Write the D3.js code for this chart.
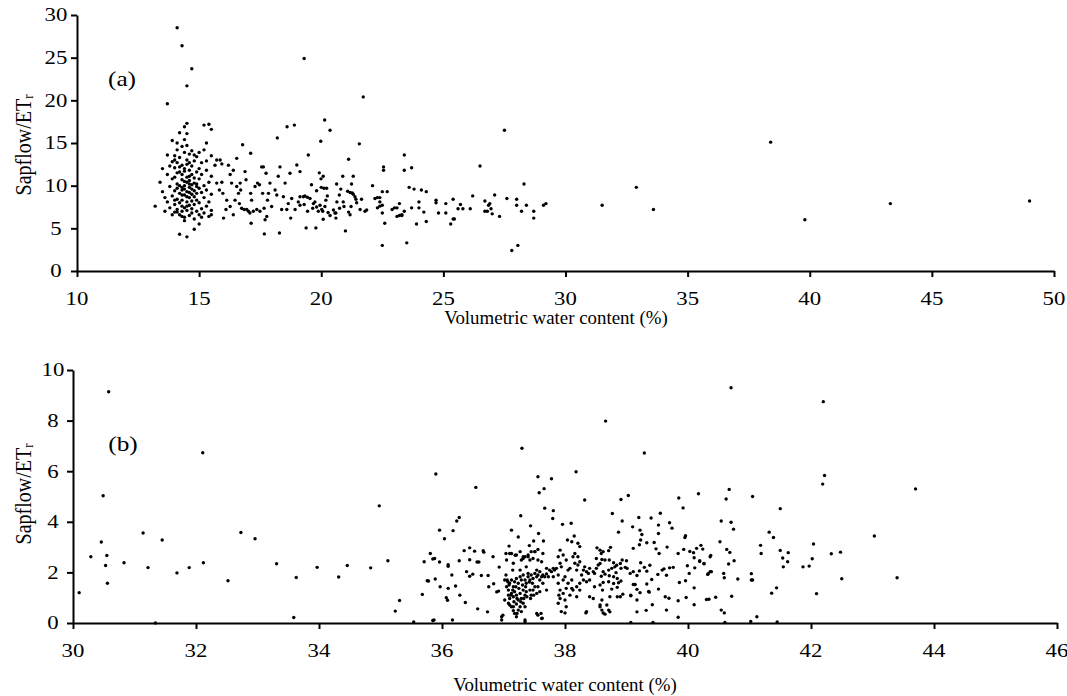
<!DOCTYPE html>
<html>
<head>
<meta charset="utf-8">
<script src="https://cdn.jsdelivr.net/npm/d3@7"></script>
<style>
  body { margin: 0; background: #fff; }
  svg { display: block; }
</style>
</head>
<body>
<svg id="chart" width="1067" height="696" font-family="'Liberation Serif', 'Times New Roman', serif"></svg>
<script>
// tick values
const xTicksA = [10, 15, 20, 25, 30, 35, 40, 45, 50]
const yTicksA = [0, 5, 10, 15, 20, 25, 30]
const xTicksB = [30, 32, 34, 36, 38, 40, 42, 44, 46]
const yTicksB = [0, 2, 4, 6, 8, 10]

// panel (a): [volumetric water content %, sapflow/ETr]
const pointsA = [
  [14.1,28.5],[14.3,26.4],[14.7,23.7],[14.5,21.7],[13.7,19.6],[14.5,17.3],[14.4,16.9],
  [13.2,7.6],[13.4,10.4],[13.5,9.3],[13.5,12.0],[13.6,8.6],[13.6,7.0],[13.7,11.3],[13.7,13.6],[13.7,8.1],
  [13.8,9.9],[13.8,12.3],[13.8,7.4],[13.9,15.3],[13.9,10.8],[13.9,8.8],[13.9,6.6],[14.0,12.1],[14.0,13.5],
  [14.0,9.4],[14.0,7.8],[14.0,11.0],[14.0,6.9],
  [14.1,14.2],[14.1,12.7],[14.1,10.2],[14.1,8.4],[14.1,7.2],[14.1,15.0],[14.2,11.6],[14.2,9.1],[14.2,8.0],
  [14.2,6.6],[14.2,13.3],[14.2,4.3],[14.2,16.2],[14.3,12.4],[14.3,10.7],[14.3,9.5],[14.3,7.6],[14.3,7.0],
  [14.3,14.6],[14.3,11.3],[14.3,8.3],[14.4,13.9],[14.4,10.0],[14.4,8.9],[14.4,7.4],[14.4,12.0],[14.4,6.3],
  [14.4,5.9],[14.4,15.4],[14.5,11.0],[14.5,9.3],[14.5,8.1],[14.5,13.0],[14.5,10.4],[14.5,7.1],[14.5,4.0],
  [14.5,12.5],[14.5,16.1],
  [14.6,9.8],[14.6,8.6],[14.6,11.8],[14.6,7.7],[14.6,13.7],[14.6,10.6],[14.6,6.5],[14.7,9.0],[14.7,12.3],
  [14.7,10.1],[14.7,8.2],[14.7,7.3],[14.7,14.1],[14.7,11.3],[14.8,9.4],[14.8,10.9],[14.8,8.7],[14.8,6.1],
  [14.8,12.9],[14.8,7.8],[14.8,4.9],[14.9,10.2],[14.9,11.6],[14.9,9.1],[14.9,7.0],[14.9,13.4],[14.9,8.3],
  [15.0,9.7],[15.0,12.0],[15.0,10.8],[15.0,6.6],[15.0,8.0],[15.0,13.9],[15.0,5.5],
  [14.3,9.8],[14.4,9.6],[14.6,9.2],[14.5,8.7],[14.7,9.6],[14.4,10.5],[14.2,10.0],[14.6,10.2],[14.3,8.9],
  [14.5,7.6],[14.8,10.3],[14.2,12.2],[14.4,11.7],[14.1,9.7],[14.6,11.1],[14.9,9.9],[14.0,8.3],[14.1,11.5],
  [14.3,6.4],[14.7,6.8],[14.1,6.9],[14.0,13.0],[13.9,12.8],[14.6,12.7],[14.5,14.7],[14.8,13.6],
  [15.1,11.3],[15.1,9.2],[15.1,7.3],[15.1,12.7],[15.1,6.3],[15.2,10.0],[15.2,8.6],[15.2,14.2],[15.2,6.8],
  [15.2,17.1],[15.3,11.8],[15.3,9.5],[15.3,7.6],[15.3,12.9],[15.3,15.0],[15.4,10.4],[15.4,8.1],[15.4,6.4],
  [15.4,17.2],[15.5,11.1],[15.5,9.0],[15.5,7.1],[15.5,13.5],[15.5,16.6],[15.5,6.6],
  [15.65,12.4],[15.72,13.0],[15.86,13.0],[15.93,12.55],[15.72,10.3],[15.83,9.5],[15.93,10.4],[15.97,9.1],
  [16.0,6.2],[16.1,7.2],[16.13,8.3],[16.2,12.4],[16.27,11.3],[16.27,7.55],[16.33,10.3],[16.4,11.8],
  [16.4,6.6],[16.47,8.3],[16.54,13.2],[16.54,9.9],[16.61,9.1],[16.65,7.9],[16.68,10.3],[16.7,9.5],
  [16.74,7.35],[16.78,14.8],[16.84,7.2],[16.88,11.65],[16.92,10.7],[16.95,7.2],[17.02,7.0],[17.08,6.8],
  [17.11,13.8],[17.11,9.1],[17.13,5.6],[17.15,8.3],[17.22,7.0],[17.29,9.9],[17.36,7.2],[17.39,10.3],
  [17.47,10.1],[17.49,7.0],[17.56,12.2],[17.6,9.1],[17.63,12.2],[17.66,7.35],[17.67,4.35],[17.7,6.0],
  [17.74,11.45],[17.77,6.4],[17.8,8.3],[17.84,9.1],[17.9,10.3],[17.97,7.55],[18.11,9.5],[18.18,8.9],
  [18.24,11.1],[18.29,4.45],[18.31,12.2],[18.38,7.2],[18.45,8.7],[18.52,10.3],[18.59,7.2],[18.65,7.9],
  [18.72,11.45],[18.75,6.2],[18.79,8.5],[18.93,7.2],[19.0,12.43],[19.06,8.1],
  [18.2,15.6],[18.6,16.9],[18.9,17.1],
  [19.13,11.65],[19.13,8.7],[19.13,7.7],[19.27,8.7],[19.3,7.8],[19.33,8.8],[19.38,5.05],[19.43,8.65],
  [19.44,7.0],[19.47,13.6],[19.54,8.5],[19.6,10.1],[19.65,7.35],[19.68,7.9],[19.74,8.1],[19.78,5.05],
  [19.81,9.4],[19.81,7.5],[19.88,7.0],[19.92,11.5],[19.95,7.7],[19.98,15.2],[19.99,10.8],[20.0,9.8],
  [20.02,7.2],[20.06,7.0],[20.08,11.1],[20.08,6.07],[20.11,9.7],[20.14,17.7],[20.15,7.55],[20.19,8.3],
  [20.22,9.7],[20.25,8.8],[20.28,6.85],[20.36,16.5],[20.36,6.5],[20.5,7.15],[20.56,6.8],[20.6,6.8],
  [20.6,6.2],[20.63,10.2],[20.64,8.1],[20.74,8.9],[20.75,7.35],[20.8,9.6],[20.88,11.1],[20.9,8.1],
  [20.93,7.55],[20.99,4.7],[21.08,9.35],[21.12,13.1],[21.12,6.9],[21.18,9.2],[21.18,6.6],[21.22,7.55],
  [21.24,10.2],[21.27,9.15],[21.31,11.1],[21.31,9.0],[21.38,8.7],[21.42,8.4],[21.45,8.0],[21.56,14.9],
  [21.59,7.2],[21.65,8.4],[21.72,20.4],[21.79,7.0],[21.86,7.15],[19.3,24.9],
  [22.1,10.0],[22.2,8.5],[22.3,8.6],[22.4,8.6],[22.3,7.4],[22.4,7.6],[22.4,8.1],[22.5,9.3],[22.5,6.8],
  [22.5,3.0],[22.5,7.7],[22.55,12.2],[22.55,11.8],[22.6,5.6],[22.7,9.3],[22.9,7.2],[23.0,7.4],[23.1,6.4],
  [23.1,7.4],[23.2,7.9],[23.2,6.5],[23.3,6.5],[23.3,6.6],[23.4,7.0],[23.4,11.8],[23.4,13.6],[23.5,3.3],
  [23.6,9.8],[23.7,7.4],[23.7,12.1],[23.8,9.6],[23.9,5.5],[24.0,8.1],[24.0,7.4],[24.1,9.5],[24.2,6.9],
  [24.3,9.3],[24.3,5.8],
  [24.7,8.0],[24.7,8.3],[24.8,6.8],[25.1,7.9],[25.1,6.8],[25.3,5.5],[25.4,8.4],[25.4,6.1],[25.45,6.1],
  [25.6,7.3],[25.7,7.8],[25.8,7.3],[26.1,7.3],[26.2,8.8],[26.5,12.3],[26.7,8.2],[26.7,7.0],[26.8,7.0],
  [26.85,7.7],[26.9,7.9],[26.95,7.3],[27.0,6.7],[27.1,8.9],[27.3,6.4],[27.5,16.5],[27.6,8.5],[27.8,2.4],
  [28.0,8.4],[28.0,7.7],[28.05,3.0],[28.2,7.0],[28.3,10.2],[28.4,7.7],[28.7,7.0],[28.7,6.2],[29.1,7.7],
  [29.2,7.9],
  [31.5,7.7],[32.9,9.8],[33.6,7.2],[38.4,15.1],[39.8,6.0],[43.3,7.9],[49.0,8.2]
]

// panel (b): [volumetric water content %, sapflow/ETr]
const pointsB = [
  [30.1,1.2],[30.29,2.62],[30.46,3.2],[30.49,5.03],[30.53,2.27],[30.55,2.67],[30.56,1.57],[30.58,9.14],
  [30.83,2.38],[31.14,3.56],[31.22,2.19],[31.34,0.0],[31.45,3.28],[31.69,1.98],[31.89,2.19],[32.11,6.73],
  [32.12,2.38],[32.52,1.67],[32.73,3.58],[32.96,3.33],[33.31,2.34],[33.59,0.22],[33.63,1.8],[33.97,2.2],
  [34.32,1.82],[34.46,2.27],
  [34.84,2.18],[34.98,4.63],[35.12,2.46],[35.24,0.47],[35.31,0.89],[35.54,0.04],[35.68,1.13],[35.71,2.42],
  [35.76,1.67],[35.78,1.66],[35.81,2.75],[35.85,0.1],[35.87,0.12],[35.85,2.53],[35.88,2.55],[35.89,1.74],
  [35.9,5.89],[35.96,3.67],[35.96,2.41],[35.97,1.43],[36.04,3.33],[36.07,1.0],[36.09,0.9],[36.1,2.3],
  [36.1,2.24],[36.1,1.37],[36.16,1.9],[36.17,0.12],[36.18,3.65],[36.22,1.46],[36.24,4.03],[36.28,4.17],
  [36.28,2.46],[36.29,1.1],[36.36,2.86],[36.38,0.81],[36.4,2.03],[36.45,2.97],[36.45,2.5],[36.45,1.85],
  [36.5,1.93],[36.53,2.84],[36.55,5.36],[36.57,2.41],[36.6,2.41],[36.58,0.56],[36.64,1.88],[36.67,2.86],
  [36.68,2.8],[36.74,0.44],[36.75,1.88],[36.76,1.43],[36.83,2.62],[36.84,1.55],[36.89,1.23],[36.92,1.26],
  [36.93,2.21],[36.97,0.12],[37.04,2.75],[37.07,1.63],[37.09,3.04],[37.13,3.67],[37.13,2.75],[37.15,2.09],
  [37.19,2.68],[37.22,0.38],[37.24,3.4],[37.28,4.24],[37.3,6.91],[37.32,2.62],[37.35,0.05],[37.4,2.62],
  [37.42,3.06],[37.44,3.84],[37.49,3.24],[37.51,2.82],[37.56,2.91],[37.56,5.78],[37.57,3.54],[37.58,5.15],
  [37.61,0.38],[37.63,0.19],[37.65,3.24],[37.66,5.31],[37.67,4.54],[37.78,5.7],[37.8,4.13],[37.81,4.44],
  [37.96,3.9],[38.0,0.4],[38.04,3.28],[38.1,3.94],[38.15,3.44],[38.18,5.98],[38.21,3.15],[38.32,4.86],
  [38.34,0.4],[38.52,2.97],[38.66,7.98],[38.77,4.33],[38.87,3.59],[38.91,4.88],[38.93,4.03],[39.03,5.04],
  [37.02,1.70],[37.05,1.43],[37.08,1.30],[37.10,1.57],[37.13,1.70],[37.16,1.43],[37.18,1.63],[37.21,1.76],
  [37.24,1.57],[37.27,1.83],[37.29,1.70],[37.32,1.90],[37.35,1.70],[37.37,1.57],[37.40,1.83],[37.43,1.70],
  [37.45,1.90],[37.48,1.76],[37.51,1.96],[37.54,1.83],[37.56,1.90],[37.59,1.70],[37.62,1.83],[37.64,1.90],
  [37.67,1.83],[37.70,1.94],[37.73,1.83],[37.75,2.09],[37.78,2.03],[37.81,2.16],[37.83,2.09],[37.86,2.16],
  [37.08,1.10],[37.10,0.97],[37.13,1.17],[37.16,1.04],[37.18,1.24],[37.21,1.10],[37.24,0.91],[37.27,1.17],
  [37.29,0.97],[37.32,1.30],[37.35,1.10],[37.37,1.24],[37.43,1.30],[37.45,1.10],[37.48,1.30],[37.51,1.43],
  [37.54,1.17],[37.56,1.43],[37.59,1.24],[37.10,0.71],[37.16,0.64],[37.21,0.75],[37.24,0.51],[37.27,0.64],
  [37.29,0.45],[37.32,0.78],[37.35,0.64],[37.18,0.38],[37.21,0.25],[37.16,0.49],[37.13,0.64],[37.08,0.78],
  [36.99,0.31],[36.97,0.25],[37.02,0.91],[37.05,2.49],[37.10,2.75],[37.16,2.36],[37.21,2.69],[37.27,2.09],
  [37.29,2.49],[37.35,2.62],[37.40,2.69],[37.43,2.49],[37.45,2.82],[37.48,2.55],[37.51,2.82],[37.54,2.09],
  [37.56,2.49],[37.59,2.03],[37.62,2.42],[37.64,2.75],[37.70,2.16],[37.27,2.82],[37.32,2.55],[37.37,2.22],
  [37.40,1.96],[37.64,1.57],[37.70,1.30],[37.54,0.38],[37.56,0.31],[37.62,0.18],[37.35,0.12],[37.42,1.62],
  [37.47,1.57],[37.25,1.37],[37.31,1.50],[37.36,1.43],[37.20,1.43],[37.15,1.30],[37.09,1.50],[37.04,1.90],
  [37.06,1.70],[37.22,0.97],[37.28,0.84],[37.33,0.97],[37.38,1.04],[37.44,0.97],[37.49,1.10],[37.17,0.84],
  [37.12,1.10],
  [37.89,1.90],[37.92,2.36],[37.94,2.22],[37.97,1.70],[38.00,1.83],[38.02,2.49],[38.05,2.09],[38.08,2.16],
  [38.11,1.70],[38.13,2.62],[38.16,2.36],[38.19,2.09],[38.21,2.29],[38.24,2.42],[38.27,1.90],[38.30,2.09],
  [38.32,2.22],[38.35,2.03],[38.38,1.96],[38.40,2.16],[38.46,2.03],[38.48,1.96],[38.51,2.16],[38.54,2.29],
  [37.92,1.30],[37.97,1.17],[38.02,1.37],[38.08,1.10],[38.13,1.30],[38.19,1.43],[38.24,1.57],[38.30,1.70],
  [38.35,1.63],[38.40,1.70],[37.92,0.97],[38.00,0.91],[37.89,0.78],[38.02,0.64],[37.94,0.45],[38.19,1.04],
  [38.24,1.30],[38.40,1.04],[38.48,1.43],[38.35,0.45],[38.46,0.97],[38.57,0.64],[38.16,2.75],[38.24,3.02],
  [38.11,3.21],[38.21,2.62],[38.51,2.55],[38.57,2.88],[37.89,2.62],[37.92,2.88],[37.97,2.69],[37.81,1.83],
  [37.89,1.57],[37.90,1.10],[38.05,1.57],[38.11,1.37],
  [38.59,2.75],[38.62,2.82],[38.71,2.86],[38.74,2.99],[38.57,2.35],[38.6,2.51],[38.65,2.49],[38.72,2.49],
  [38.79,2.38],[38.81,2.22],[38.84,2.28],[38.76,2.16],[38.71,2.09],[38.62,2.03],[38.59,1.85],[38.65,1.93],
  [38.72,1.87],[38.79,1.83],[38.85,1.76],[38.9,2.35],[38.91,2.16],[38.98,2.2],[39.01,2.16],[39.0,2.46],
  [38.93,2.49],[38.83,1.99],[38.87,1.59],[38.91,1.66],[38.79,1.56],[38.71,1.63],[38.62,1.6],[38.57,1.5],
  [38.76,1.34],[38.85,1.41],[38.61,1.3],[38.73,1.04],[38.85,1.04],[38.9,1.04],[38.94,1.14],[38.6,0.91],
  [38.68,0.71],[38.71,0.51],[38.73,0.44],[38.62,0.4],[38.65,0.35],[38.6,0.51],[38.57,0.71],
  [39.07,1.08],[39.11,1.52],[39.14,1.52],[39.07,1.1],[39.17,0.91],[39.21,2.06],[39.11,2.03],[39.06,1.96],
  [39.17,1.88],
  [39.29,6.72],[42.22,5.83],[42.19,5.49],[43.03,3.44],[43.4,1.79],[39.85,4.94],[40.17,5.11],[40.67,5.28],
  [40.62,4.9],[41.05,5.0],[41.5,4.52],[39.92,4.55],[39.4,4.15],[39.55,4.34],[39.2,4.17],[39.1,3.8],
  [39.7,3.96],[39.74,3.75],[39.52,3.87],[39.22,3.67],[39.25,3.5],[39.23,3.28],[39.11,2.95],[39.21,3.09],
  [39.33,3.17],[39.45,3.18],[39.48,2.93],[39.53,2.75],[39.66,3.0],[39.52,3.54],[39.96,3.45],[39.95,3.38],
  [39.84,2.75],[39.93,2.91],[40.03,2.83],[40.09,2.78],[40.14,2.95],[40.21,3.07],[40.24,2.92],[40.1,2.58],
  [40.19,2.46],[40.26,2.35],[40.36,2.62],[40.37,2.67],[40.54,4.03],[40.7,3.98],[40.74,3.71],[40.52,3.21],
  [40.63,2.91],[40.68,2.79],[40.75,2.46],[40.66,2.33],[40.38,2.03],[40.33,1.95],[40.58,1.96],[40.59,1.79],
  [40.81,1.74],[41.03,1.95],[41.03,1.7],[41.05,1.7],[41.18,3.07],[41.19,2.75],[41.32,3.59],[41.39,3.38],
  [41.5,2.87],[41.54,2.57],[41.55,2.22],[41.63,2.78],[41.62,2.42],[41.87,2.22],[41.97,2.25],[42.02,2.54],
  [42.04,3.12],[42.33,2.74],[42.48,2.8],[42.5,1.75],[42.09,1.16],[41.44,1.39],[41.36,1.18],[41.12,0.25],
  [41.45,0.04],[41.02,0.06],[40.6,0.02],[40.54,0.51],[40.59,0.4],[40.71,1.06],[40.45,1.02],[40.3,0.93],
  [40.34,0.94],[40.1,1.39],[40.1,0.72],[39.97,1.01],[39.84,0.88],[39.84,0.23],[39.65,0.51],[39.69,0.98],
  [39.63,1.04],[39.43,0.02],[39.07,0.02],[39.32,0.5],[39.17,0.44],[39.42,0.72],[39.37,1.22],[39.33,2.05],
  [39.41,1.72],[39.38,2.28],[39.23,2.38],[39.29,2.2],[39.13,1.52],[39.17,1.33],[39.22,1.2],[39.33,1.54],
  [39.36,1.25],[39.52,1.34],[39.51,1.92],[39.58,2.09],[39.61,2.14],[39.65,1.89],[39.7,2.18],[39.76,2.2],
  [39.86,1.6],[39.96,1.67],[39.99,2.26],[40.02,1.96],[40.11,2.18],[40.19,2.43],[40.26,2.34],[40.32,1.92],
  [40.36,2.03],
  [40.7,9.3],[42.2,8.75],[43.7,5.3]
]

const svg = d3.select('#chart')
const sx = 1.2 // the figure's text is a bit wider than the font

function panel(cfg) {
  const g = svg.append('g')

  const x = d3.scaleLinear().domain(cfg.xDomain).range(cfg.xRange)
  const y = d3.scaleLinear().domain(cfg.yDomain).range(cfg.yRange)

  g.append('g')
    .attr('transform', `translate(0,${cfg.yRange[0]})`)
    .call(d3.axisBottom(x).tickValues(cfg.xTicks).tickSize(6).tickSizeOuter(0).tickFormat(''))
  g.append('g')
    .attr('transform', `translate(${cfg.xRange[0]},0)`)
    .call(d3.axisLeft(y).tickValues(cfg.yTicks).tickSize(6).tickSizeOuter(0).tickFormat(''))

  g.selectAll('.domain, .tick line')
    .attr('stroke', '#000')
    .attr('stroke-width', 2)

  g.selectAll('text.xl')
    .data(cfg.xTicks)
    .enter()
    .append('text')
    .attr('class', 'xl')
    .attr('transform', d => `translate(${x(d)},${cfg.xLabelY}) scale(${sx},1)`)
    .attr('text-anchor', 'middle')
    .attr('dominant-baseline', 'central')
    .attr('font-size', 19)
    .text(d => d)

  g.selectAll('text.yl')
    .data(cfg.yTicks)
    .enter()
    .append('text')
    .attr('class', 'yl')
    .attr('transform', d => `translate(${cfg.yLabelX},${y(d)}) scale(${sx},1)`)
    .attr('text-anchor', 'middle')
    .attr('dominant-baseline', 'central')
    .attr('font-size', 19)
    .text(d => d)

  g.append('text')
    .attr('transform', `translate(${cfg.titleX},${cfg.titleY}) scale(1.05,1)`)
    .attr('text-anchor', 'middle')
    .attr('dominant-baseline', 'central')
    .attr('font-size', 18)
    .text('Volumetric water content (%)')

  const yt = g.append('text')
    .attr('transform', `translate(22,${cfg.yTitleY}) scale(${sx},1) rotate(-90)`)
    .attr('text-anchor', 'middle')
    .attr('dominant-baseline', 'central')
    .attr('font-size', 20)
  yt.append('tspan').text('Sapflow/ET')
  yt.append('tspan').attr('font-size', 13).attr('dy', 5).text('r')

  g.append('text')
    .attr('transform', `translate(${cfg.tagX},${cfg.tagY}) scale(1.15,1)`)
    .attr('text-anchor', 'middle')
    .attr('dominant-baseline', 'central')
    .attr('font-size', 22)
    .text(cfg.tag)

  g.selectAll('circle')
    .data(cfg.points)
    .enter()
    .append('circle')
    .attr('cx', d => x(d[0]))
    .attr('cy', d => y(d[1]))
    .attr('r', 1.7)
    .attr('fill', '#000')
}

panel({
  points: pointsA, xTicks: xTicksA, yTicks: yTicksA,
  xDomain: [10, 50], yDomain: [0, 30], xRange: [77, 1054], yRange: [271, 15],
  xLabelY: 299, yLabelX: 56, titleX: 556, titleY: 318, yTitleY: 145, tag: '(a)', tagX: 122, tagY: 79
})

panel({
  points: pointsB, xTicks: xTicksB, yTicks: yTicksB,
  xDomain: [30, 46], yDomain: [0, 10], xRange: [73, 1057], yRange: [623, 370],
  xLabelY: 651, yLabelX: 53, titleX: 565, titleY: 685, yTitleY: 494, tag: '(b)', tagX: 123, tagY: 444
})
</script>
</body>
</html>
